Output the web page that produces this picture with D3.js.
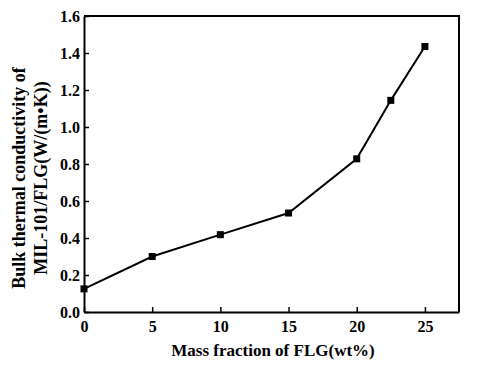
<!DOCTYPE html>
<html><head><meta charset="utf-8">
<script src="https://cdn.jsdelivr.net/npm/d3@7"></script>
<style>body{margin:0;background:#fff}svg text{font-family:"Liberation Serif","Times New Roman",serif;font-weight:bold;fill:#000}</style>
</head><body><svg id="c" width="483" height="372"></svg>
<script>
const massFraction = [0, 5, 10, 15, 20, 22.5, 25];
const conductivity = [0.125, 0.30, 0.418, 0.535, 0.828, 1.144, 1.435];
const xTicks = [0, 5, 10, 15, 20, 25];
const yTicks = [0.0, 0.2, 0.4, 0.6, 0.8, 1.0, 1.2, 1.4, 1.6];
const xTitle = "Mass fraction of FLG(wt%)";
const yTitle = ["Bulk thermal conductivity of", "MIL-101/FLG(W/(m\u2022K))"];

const svg = d3.select("#c");
const L = 84, R = 459, T = 16, B = 312;
const x = d3.scaleLinear().domain([0, 27.5]).range([L, R]);
const y = d3.scaleLinear().domain([0, 1.6]).range([B, T]);

const xAxis = svg.append("g").attr("transform", `translate(0,${B})`)
  .call(d3.axisBottom(x).tickValues(xTicks).tickSizeInner(-5).tickSizeOuter(0).tickPadding(9).tickFormat(d3.format("d")));
const yAxis = svg.append("g").attr("transform", `translate(${L},0)`)
  .call(d3.axisLeft(y).tickValues(yTicks).tickSizeInner(-5).tickSizeOuter(0).tickPadding(4).tickFormat(d3.format(".1f")));
[xAxis, yAxis].forEach(a => {
  a.selectAll("path").attr("stroke", "#000").attr("stroke-width", 2);
  a.selectAll("line").attr("stroke", "#000").attr("stroke-width", 1.5);
  a.selectAll("text").style("font-size", "16px").attr("fill", "#000");
});
svg.append("path").attr("d", `M${L},${T}H${R}V${B}`).attr("fill", "none").attr("stroke", "#000").attr("stroke-width", 2);

const data = massFraction.map((d, i) => [d, conductivity[i]]);
svg.append("path").datum(data)
  .attr("d", d3.line().x(d => x(d[0])).y(d => y(d[1])))
  .attr("fill", "none").attr("stroke", "#000").attr("stroke-width", 2);
svg.selectAll("rect.m").data(data).enter().append("rect").attr("class", "m")
  .attr("x", d => x(d[0]) - 3.5).attr("y", d => y(d[1]) - 3.5)
  .attr("width", 7).attr("height", 7).attr("fill", "#000");

svg.append("text").attr("x", 273).attr("y", 356).attr("text-anchor", "middle")
  .style("font-size", "17px").text(xTitle);
const yt = svg.append("text").attr("transform", "translate(0,178) rotate(-90)").attr("text-anchor", "middle").style("font-size", "18px");
yt.append("tspan").attr("x", 0).attr("y", 25).text(yTitle[0]);
yt.append("tspan").attr("x", 0).attr("y", 47).text(yTitle[1]);
</script></body></html>
